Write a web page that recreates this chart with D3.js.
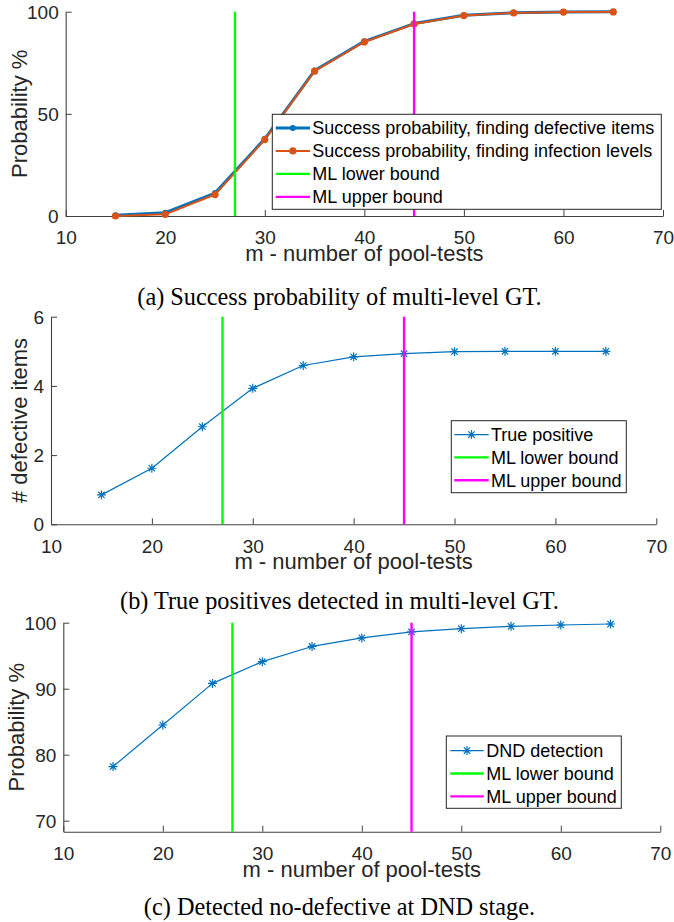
<!DOCTYPE html>
<html>
<head>
<meta charset="utf-8">
<script src="https://cdn.jsdelivr.net/npm/d3@7"></script>
<style>
  html, body { margin: 0; padding: 0; background: #fff; }
  svg { display: block; }
</style>
</head>
<body>
<div id="chart"></div>
<script>
// ---------------- data ----------------
const mValues = [15, 20, 25, 30, 35, 40, 45, 50, 55, 60, 65];
const xTicks = [10, 20, 30, 40, 50, 60, 70];

const successDefective = [0.4, 1.6, 11.2, 37.8, 71.2, 85.5, 94.2, 98.3, 99.5, 99.9, 100];
const successInfection = [0.0, 0.8, 10.5, 37.4, 70.9, 85.2, 94.0, 98.1, 99.4, 99.8, 99.9];
const truePositive = [0.85, 1.62, 2.82, 3.93, 4.59, 4.84, 4.93, 4.99, 5.0, 5.0, 5.0];
const dndDetection = [78.2, 84.5, 90.8, 94.1, 96.4, 97.7, 98.6, 99.1, 99.45, 99.65, 99.8];

const mlLowerBound = 27;
const mlUpperBound = 45;

const yTicksA = [0, 50, 100];
const yTicksB = [0, 2, 4, 6];
const yTicksC = [70, 80, 90, 100];

const legendA = ["Success probability, finding defective items",
                 "Success probability, finding infection levels",
                 "ML lower bound", "ML upper bound"];
const legendB = ["True positive", "ML lower bound", "ML upper bound"];
const legendC = ["DND detection", "ML lower bound", "ML upper bound"];

const captions = ["(a) Success probability of multi-level GT.",
                  "(b) True positives detected in multi-level GT.",
                  "(c) Detected no-defective at DND stage."];
const xLabel = "m - number of pool-tests";

// ---------------- style ----------------
const BLUE = "#0072BD", ORANGE = "#D95319", GREEN = "#00FF00", MAGENTA = "#FF00FF";
const AXIS = "#404040", TEXT = "#262626";
const SANS = "'Liberation Sans', Arial, Helvetica, sans-serif";
const SERIF = "'Liberation Serif', 'Times New Roman', Times, serif";

const W = 674, H = 922;
const svg = d3.select("#chart").append("svg").attr("width", W).attr("height", H);
svg.append("rect").attr("width", W).attr("height", H).attr("fill", "#fff");

function starPath(r) {
  const d = r * 0.707;
  return `M0,${-r}L0,${r}M${-r},0L${r},0M${-d},${-d}L${d},${d}M${-d},${d}L${d},${-d}`;
}

function panel(cfg) {
  const g = svg.append("g");
  const x = d3.scaleLinear().domain([10, 70]).range([cfg.left, cfg.right]);
  const y = d3.scaleLinear().domain(cfg.yDomain).range([cfg.bottom, cfg.top]);
  const fmt = d3.format("d");

  // axes
  const xa = g.append("g").attr("transform", `translate(0,${cfg.bottom})`)
    .call(d3.axisBottom(x).tickValues(xTicks).tickFormat(fmt)
      .tickSize(-6).tickSizeOuter(0).tickPadding(15));
  const ya = g.append("g").attr("transform", `translate(${cfg.left},0)`)
    .call(d3.axisLeft(y).tickValues(cfg.yTicks).tickFormat(fmt)
      .tickSize(-6).tickSizeOuter(0).tickPadding(7));
  [xa, ya].forEach(a => {
    a.selectAll("path.domain").attr("stroke", AXIS).attr("stroke-width", 1.1);
    a.selectAll(".tick line").attr("stroke", AXIS).attr("stroke-width", 1);
    a.selectAll(".tick text").attr("fill", TEXT).attr("font-family", SANS).attr("font-size", 19);
  });
  ya.selectAll(".tick text").attr("dy", "0.34em");

  // data series
  const line = d3.line().x((d, i) => x(mValues[i])).y(d => y(d));
  cfg.series.forEach(s => {
    g.append("path").datum(s.values).attr("d", line)
      .attr("fill", "none").attr("stroke", s.color).attr("stroke-width", s.width)
      .attr("stroke-linejoin", "round");
    if (s.marker === "dot") {
      g.selectAll(null).data(s.values).enter().append("circle")
        .attr("cx", (d, i) => x(mValues[i])).attr("cy", d => y(d))
        .attr("r", s.r).attr("fill", s.color);
    } else {
      g.selectAll(null).data(s.values).enter().append("path")
        .attr("d", starPath(4.5))
        .attr("transform", (d, i) => `translate(${x(mValues[i])},${y(d)})`)
        .attr("stroke", s.color).attr("stroke-width", 1.2).attr("fill", "none");
    }
  });

  // bounds
  [[mlLowerBound, GREEN], [mlUpperBound, MAGENTA]].forEach(([v, c]) => {
    g.append("line").attr("x1", x(v)).attr("x2", x(v))
      .attr("y1", y(cfg.yDomain[0])).attr("y2", y(cfg.yDomain[1]))
      .attr("stroke", c).attr("stroke-width", 2.4);
  });

  // legend
  const L = cfg.legend;
  g.append("rect").attr("x", L.x0).attr("y", L.y0)
    .attr("width", L.x1 - L.x0).attr("height", L.y1 - L.y0)
    .attr("fill", "#fff").attr("stroke", TEXT).attr("stroke-width", 1);
  const entries = cfg.series.map(s => ({...s}))
    .concat([{color: GREEN, width: 2.4, marker: null}, {color: MAGENTA, width: 2.4, marker: null}]);
  L.labels.forEach((lab, i) => {
    const ry = L.rowStart + i * L.rowStep;
    const e = entries[i];
    g.append("line").attr("x1", L.lx0).attr("x2", L.lx1).attr("y1", ry).attr("y2", ry)
      .attr("stroke", e.color).attr("stroke-width", e.width);
    const mx = (L.lx0 + L.lx1) / 2;
    if (e.marker === "dot") {
      g.append("circle").attr("cx", mx).attr("cy", ry).attr("r", e.r).attr("fill", e.color);
    } else if (e.marker === "star") {
      g.append("path").attr("d", starPath(4.5)).attr("transform", `translate(${mx},${ry})`)
        .attr("stroke", e.color).attr("stroke-width", 1.2).attr("fill", "none");
    }
    g.append("text").attr("x", L.tx).attr("y", ry).attr("dy", "0.35em")
      .attr("font-family", SANS).attr("font-size", 18).attr("fill", "#000").text(lab);
  });

  // axis labels
  g.append("text").attr("x", (cfg.left + cfg.right) / 2).attr("y", cfg.bottom + 45)
    .attr("text-anchor", "middle").attr("font-family", SANS).attr("font-size", 22)
    .attr("fill", TEXT).text(xLabel);
  g.append("text")
    .attr("transform", `translate(${cfg.yLabelX},${(cfg.top + cfg.bottom) / 2}) rotate(-90)`)
    .attr("text-anchor", "middle").attr("font-family", SANS).attr("font-size", 22)
    .attr("fill", TEXT).text(cfg.yLabel);

  // caption
  g.append("text").attr("x", 339.5).attr("y", cfg.captionY).attr("text-anchor", "middle")
    .attr("font-family", SERIF).attr("font-size", 24.3).attr("fill", "#000").text(cfg.caption);
}

panel({
  left: 65.7, right: 663, top: 11.7, bottom: 216, yDomain: [0, 100], yTicks: yTicksA,
  yLabel: "Probability %", yLabelX: 27.3, caption: captions[0], captionY: 304.5,
  series: [
    {values: successDefective, color: BLUE, width: 3, marker: "dot", r: 3},
    {values: successInfection, color: ORANGE, width: 2, marker: "dot", r: 3.6}
  ],
  legend: {x0: 272.3, y0: 114.3, x1: 661.3, y1: 209.3, rowStart: 127.9, rowStep: 23,
           lx0: 275.7, lx1: 310, tx: 312.3, labels: legendA}
});

panel({
  left: 51, right: 656.3, top: 316.7, bottom: 524.3, yDomain: [0, 6], yTicks: yTicksB,
  yLabel: "# defective items", yLabelX: 27, caption: captions[1], captionY: 609,
  series: [
    {values: truePositive, color: BLUE, width: 1.2, marker: "star"}
  ],
  legend: {x0: 451.3, y0: 420.7, x1: 626.3, y1: 492.7, rowStart: 434.6, rowStep: 22.8,
           lx0: 454.3, lx1: 488.7, tx: 491, labels: legendB}
});

panel({
  left: 63.3, right: 660.3, top: 622.7, bottom: 831.7, yDomain: [68.33, 100], yTicks: yTicksC,
  yLabel: "Probability %", yLabelX: 24.3, caption: captions[2], captionY: 915,
  series: [
    {values: dndDetection, color: BLUE, width: 1.2, marker: "star"}
  ],
  legend: {x0: 446.3, y0: 736, x1: 621.3, y1: 808.3, rowStart: 750.6, rowStep: 22.9,
           lx0: 450.3, lx1: 483.7, tx: 486.3, labels: legendC}
});
</script>
</body>
</html>
